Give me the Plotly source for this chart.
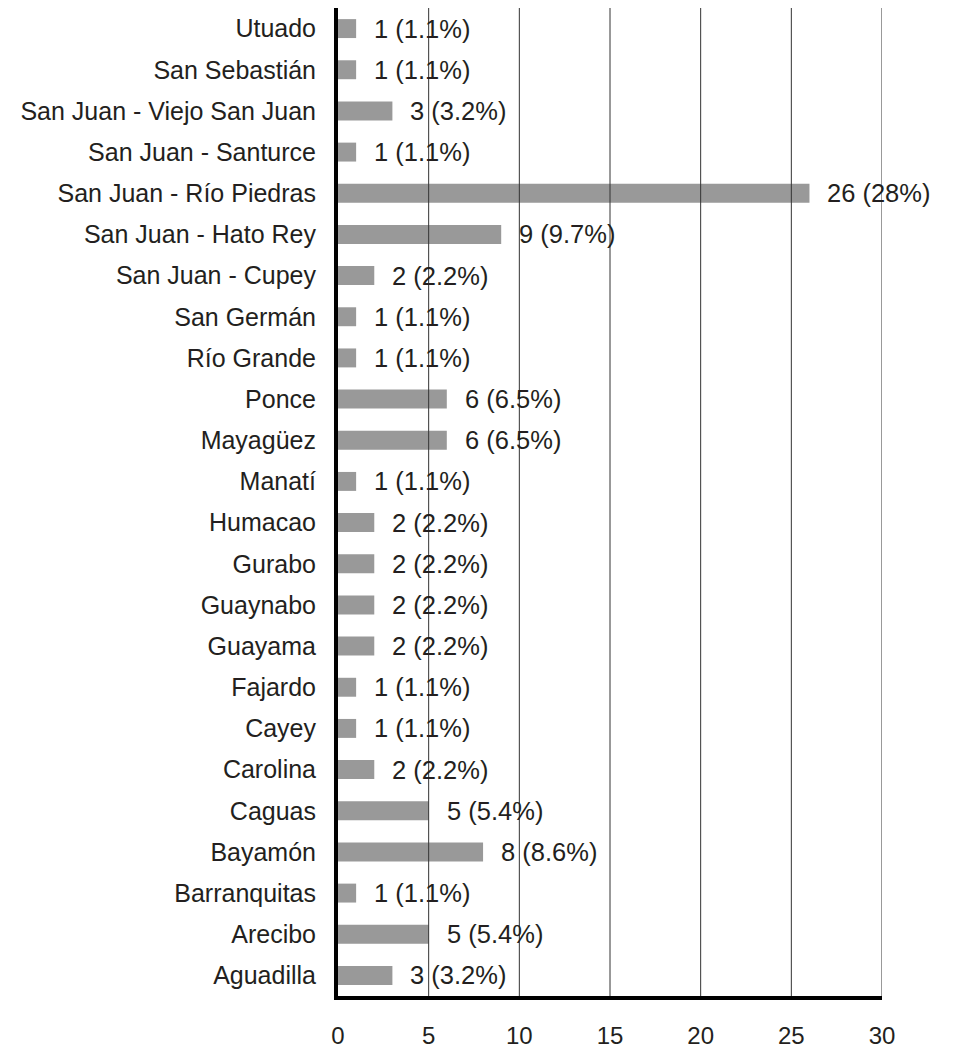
import plotly.graph_objects as go

categories = ["Utuado", "San Sebastián", "San Juan - Viejo San Juan", "San Juan - Santurce",
              "San Juan - Río Piedras", "San Juan - Hato Rey", "San Juan - Cupey", "San Germán",
              "Río Grande", "Ponce", "Mayagüez", "Manatí", "Humacao", "Gurabo", "Guaynabo",
              "Guayama", "Fajardo", "Cayey", "Carolina", "Caguas", "Bayamón", "Barranquitas",
              "Arecibo", "Aguadilla"]
counts = [1, 1, 3, 1, 26, 9, 2, 1, 1, 6, 6, 1, 2, 2, 2, 2, 1, 1, 2, 5, 8, 1, 5, 3]
percent_labels = ["1.1%", "1.1%", "3.2%", "1.1%", "28%", "9.7%", "2.2%", "1.1%", "1.1%",
                  "6.5%", "6.5%", "1.1%", "2.2%", "2.2%", "2.2%", "2.2%", "1.1%", "1.1%",
                  "2.2%", "5.4%", "8.6%", "1.1%", "5.4%", "3.2%"]
x_ticks = [0, 5, 10, 15, 20, 25, 30]

FONT = "Liberation Sans, Arial, Helvetica, sans-serif"
TXT = "#231f20"

fig = go.Figure()
fig.add_trace(go.Bar(
    x=counts, y=categories, orientation="h",
    marker=dict(color="#999999", line=dict(width=0)),
    hoverinfo="x+y",
))

annotations = []
for c, v, p in zip(categories, counts, percent_labels):
    annotations.append(dict(
        x=v, y=c, xref="x", yref="y", text=f"{v} ({p})", showarrow=False,
        xanchor="left", yanchor="middle", xshift=16,
        font=dict(family=FONT, size=25.5, color=TXT),
    ))

shapes = []
for t in x_ticks[1:]:
    shapes.append(dict(type="line", xref="x", yref="paper", x0=t, x1=t, y0=0, y1=1,
                       line=dict(color="#333333", width=1), layer="above"))

fig.update_layout(
    width=955, height=1042,
    margin=dict(l=330, r=81, t=0, b=54, pad=0),
    paper_bgcolor="white", plot_bgcolor="white",
    bargap=0.54,
    showlegend=False,
    annotations=annotations,
    shapes=shapes,
    font=dict(family=FONT, size=24, color=TXT),
    xaxis=dict(range=[0, 30], tickvals=x_ticks, ticktext=[str(t) for t in x_ticks],
               showgrid=False, zeroline=False, showline=True, linecolor="black", linewidth=4,
               ticks="", ticklabelstandoff=15, tickfont=dict(family=FONT, size=24, color=TXT),
               automargin=False, fixedrange=True),
    yaxis=dict(categoryorder="array", categoryarray=categories, autorange="reversed",
               showgrid=False, zeroline=False, showline=True, linecolor="black", linewidth=4,
               ticks="", ticklabelstandoff=13, tickfont=dict(family=FONT, size=25, color=TXT),
               automargin=False, fixedrange=True),
)

fig.write_html("out.html")
